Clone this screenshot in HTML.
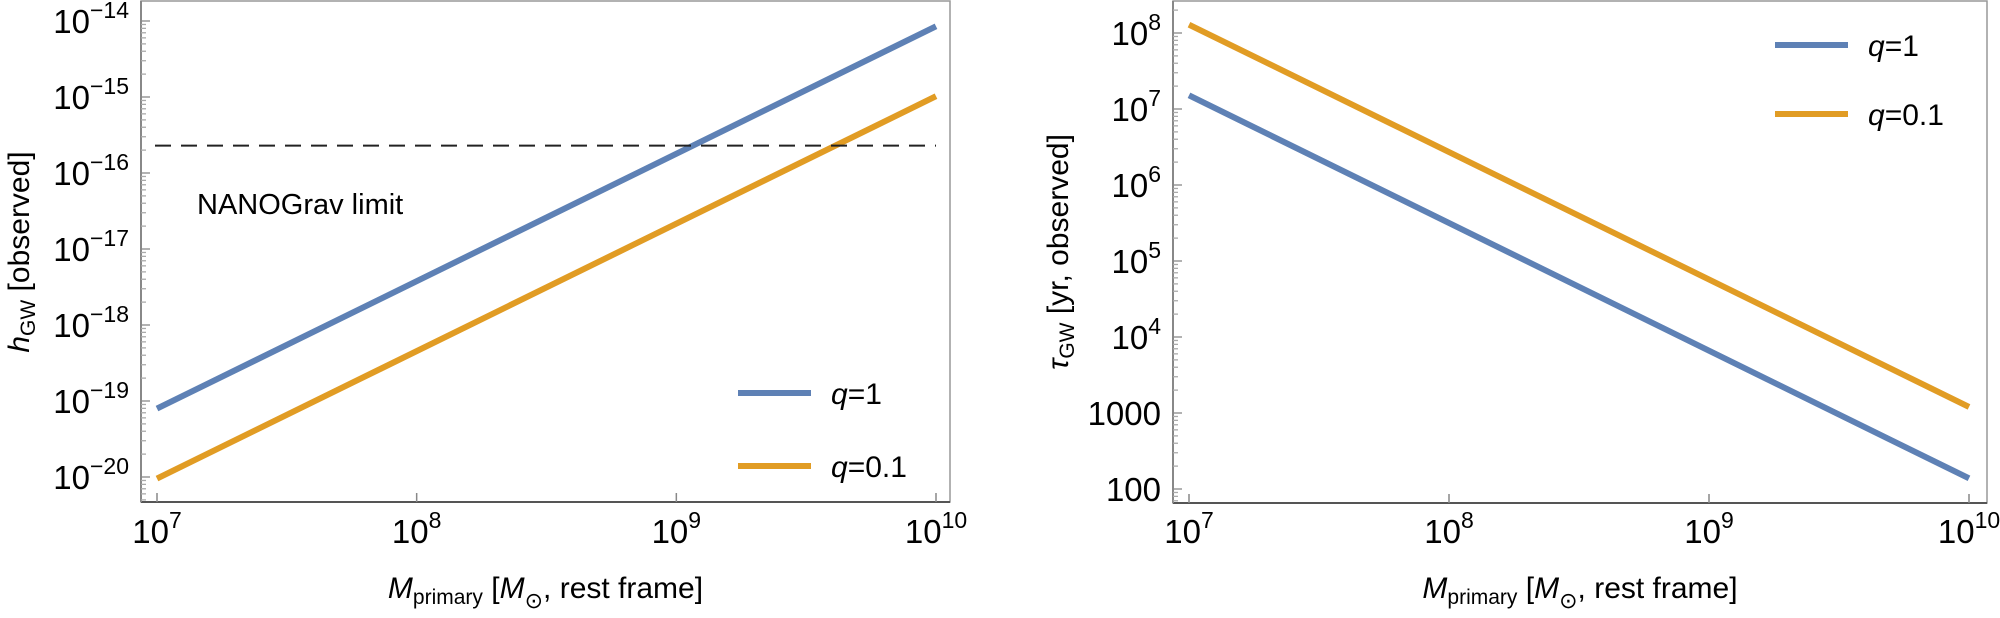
<!DOCTYPE html>
<html><head><meta charset="utf-8">
<style>
html,body{margin:0;padding:0;background:#fff;width:2000px;height:618px;overflow:hidden}
svg text{font-family:"Liberation Sans",Arial,sans-serif;fill:#000}
</style></head>
<body>
<svg id="fig" width="2000" height="618" viewBox="0 0 2000 618" xmlns="http://www.w3.org/2000/svg">
<g id="left"></g>
<g id="right"></g>
</svg>
<script>
// ---- data ----
const massLog = [7, 10];                 // log10 M_primary endpoints
const strainQ1 = [-19.1, -14.07];        // log10 h_GW, q=1
const strainQ01 = [-20.02, -14.99];      // log10 h_GW, q=0.1
const nanogravLimit = -15.64;            // log10 h
const tauQ1 = [7.18, 2.14];              // log10 tau, q=1
const tauQ01 = [8.11, 3.08];             // log10 tau, q=0.1
const xTicks = [7, 8, 9, 10];
const leftYTicks = [-20, -19, -18, -17, -16, -15, -14];
const rightYTicks = [2, 3, 4, 5, 6, 7, 8];
const rightYLabels = ["100", "1000", "10^4", "10^5", "10^6", "10^7", "10^8"];
const seriesNames = ["q=1", "q=0.1"];

const NS = "http://www.w3.org/2000/svg";
const BLUE = "#5E81B5", ORANGE = "#E19C24";
function mk(tag, attrs, parent){const e=document.createElementNS(NS,tag);for(const k in attrs)e.setAttribute(k,attrs[k]);parent.appendChild(e);return e;}

function drawPanel(g, cfg){
  const {x0,x1,y0,y1,yMin,yMax,xMin,xMax} = cfg;
  const X = v => x0 + (v - xMin)/(xMax - xMin)*(x1 - x0);
  const Y = v => y1 - (v - yMin)/(yMax - yMin)*(y1 - y0);
  const fr = mk('rect',{x:cfg.fx0,y:cfg.fy0,width:cfg.fx1-cfg.fx0,height:cfg.fy1-cfg.fy0,fill:'none',stroke:'#999','stroke-width':1.5},g);
  
  
  const ax = mk('line',{x1:cfg.fx0,y1:cfg.fy1,x2:cfg.fx1,y2:cfg.fy1,stroke:'#555','stroke-width':2},g);
  
  
  const ay = mk('line',{x1:cfg.fx0,y1:cfg.fy0,x2:cfg.fx0,y2:cfg.fy1,stroke:'#888','stroke-width':2},g);
  
  
  xTicks.forEach(t=>{
    const px = X(t);
    const tk = mk('line',{x1:px,y1:cfg.fy1,x2:px,y2:cfg.fy1-9,stroke:'#888','stroke-width':1.5},g);
    
    
    const tx = mk('text',{x:px,y:543,'font-size':33,'text-anchor':'middle'},g);
    
    
    tx.innerHTML = '10<tspan font-size="23" dy="-15">'+t+'</tspan>';
  });
  for(let d=Math.floor(yMin)-1; d<=Math.ceil(yMax); d++){
    for(let m=1;m<10;m++){
      const v = d + Math.log10(m);
      const py = Y(v);
      if(py < cfg.fy0+1 || py > cfg.fy1-1) continue;
      const tk = mk('line',{x1:cfg.fx0,y1:py,x2:cfg.fx0+(m===1?9:5),y2:py,stroke:m===1?'#888':'#aaa','stroke-width':1.3},g);
      
      
    }
  }
  cfg.yTicks.forEach((t,i)=>{
    const py = Y(t);
    const tx = mk('text',{x:cfg.fx0-12,y:py+12,'font-size':33,'text-anchor':'end'},g);
    
    
    const lab = cfg.yLabels[i];
    if(lab.indexOf('^')>=0){
      const p = lab.split('^');
      tx.innerHTML = p[0]+'<tspan font-size="23" dy="-15">'+p[1].replace('-','\u2212')+'</tspan>';
    } else tx.textContent = lab;
  });
  cfg.series.forEach((s,i)=>{
    const l = mk('line',{x1:X(massLog[0]),y1:Y(s.vals[0]),x2:X(massLog[1]),y2:Y(s.vals[1]),stroke:s.color,'stroke-width':6},g);
    
    
  });
  cfg.series.forEach((s,i)=>{
    const ly = cfg.legY[i];
    const lg = mk('g',{},g);
    
    
    mk('line',{x1:cfg.legX,y1:ly,x2:cfg.legX+73,y2:ly,stroke:s.color,'stroke-width':6},lg);
    const t = mk('text',{x:cfg.legX+93,y:ly+11,'font-size':30},lg);
    const nm = seriesNames[i].split('=');
    t.innerHTML = '<tspan font-style="italic">'+nm[0]+'</tspan>='+nm[1];
  });
  const xt = mk('text',{x:(cfg.fx0+cfg.fx1)/2,y:598,'font-size':30,'text-anchor':'middle'},g);
  
  
  xt.innerHTML = '<tspan font-style="italic">M</tspan><tspan font-size="21" dy="6">primary</tspan><tspan dy="-6"> [</tspan><tspan font-style="italic">M</tspan><tspan font-size="22" dy="10">\u2299</tspan><tspan dy="-10">, rest frame]</tspan>';
  const yt = mk('text',{x:0,y:0,'font-size':30,'text-anchor':'middle',transform:'translate('+cfg.ytx+','+cfg.yty+') rotate(-90)'},g);
  
  
  yt.innerHTML = cfg.ytitle;
  return {X,Y};
}

const L = drawPanel(document.getElementById('left'),{
  fx0:141,fx1:950,fy0:1,fy1:502,
  x0:157,x1:936,xMin:7,xMax:10,
  y0:21,y1:477,yMin:-20,yMax:-14,
  yTicks:leftYTicks, yLabels:leftYTicks.map(t=>'10^'+t),
  series:[{vals:strainQ1,color:BLUE},{vals:strainQ01,color:ORANGE}],
  legX:738, legY:[393,466],
  ytx:29, yty:252,
  ytitle:'<tspan font-style="italic">h</tspan><tspan font-size="21" dy="6">GW</tspan><tspan dy="-6"> [observed]</tspan>'
});
const gL = document.getElementById('left');
const dl = mk('line',{x1:155,y1:L.Y(nanogravLimit),x2:936,y2:L.Y(nanogravLimit),stroke:'#222','stroke-width':2,'stroke-dasharray':'16,10'},gL);


const nt = mk('text',{x:197,y:214,'font-size':29},gL);


nt.textContent = 'NANOGrav limit';

drawPanel(document.getElementById('right'),{
  fx0:1173,fx1:1987,fy0:1,fy1:503,
  x0:1189,x1:1969,xMin:7,xMax:10,
  y0:33,y1:489,yMin:2,yMax:8,
  yTicks:rightYTicks, yLabels:rightYLabels,
  series:[{vals:tauQ1,color:BLUE},{vals:tauQ01,color:ORANGE}],
  legX:1775, legY:[45,114],
  ytx:1068, yty:252,
  ytitle:'<tspan font-style="italic">\u03C4</tspan><tspan font-size="21" dy="6">GW</tspan><tspan dy="-6"> [yr, observed]</tspan>'
});
</script>
</body></html>
